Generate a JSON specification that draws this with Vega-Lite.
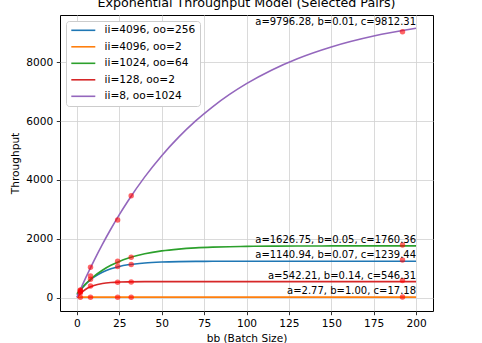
{
  "$schema": "https://vega.github.io/schema/vega-lite/v6.json",
  "width": 373,
  "height": 296,
  "autosize": {"type": "none"},
  "padding": {"left": 60, "top": 15, "right": 49, "bottom": 32},
  "title": {"text": "Exponential Throughput Model (Selected Pairs)", "font": "DejaVu Sans", "fontSize": 12.7, "fontWeight": "normal", "color": "#000", "anchor": "middle", "offset": 5},
  "config": {
    "view": {"stroke": "#000", "strokeWidth": 1},
    "axis": {"domain": false, "grid": true, "gridColor": "#d0d0d0", "gridWidth": 0.8, "tickColor": "#000", "tickSize": 3.7, "tickWidth": 0.8, "labelFont": "DejaVu Sans", "labelFontSize": 10.6, "labelColor": "#000", "labelPadding": 3.5, "titleFont": "DejaVu Sans", "titleFontSize": 10.6, "titleFontWeight": "normal", "titleColor": "#000"},
    "legend": {"orient": "top-left", "offset": 6, "padding": 4, "fillColor": "#fff", "strokeColor": "#cccccc", "cornerRadius": 3, "symbolType": "M-1,0L5,0", "symbolSize": 64, "symbolStrokeWidth": 1.6, "labelFont": "DejaVu Sans", "labelFontSize": 10.6, "labelColor": "#000", "labelOffset": 24, "rowPadding": 5.5}
  },
  "datasets": {
    "curves": [
      {"series": "ii=4096, oo=256", "x": 0, "y": 98.5}, {"series": "ii=4096, oo=256", "x": 2, "y": 255.5}, {"series": "ii=4096, oo=256", "x": 5, "y": 451}, {"series": "ii=4096, oo=256", "x": 8, "y": 608}, {"series": "ii=4096, oo=256", "x": 10, "y": 695}, {"series": "ii=4096, oo=256", "x": 15, "y": 863}, {"series": "ii=4096, oo=256", "x": 20, "y": 980}, {"series": "ii=4096, oo=256", "x": 25, "y": 1060}, {"series": "ii=4096, oo=256", "x": 30, "y": 1116}, {"series": "ii=4096, oo=256", "x": 40, "y": 1180}, {"series": "ii=4096, oo=256", "x": 50, "y": 1211}, {"series": "ii=4096, oo=256", "x": 60, "y": 1226}, {"series": "ii=4096, oo=256", "x": 70, "y": 1233}, {"series": "ii=4096, oo=256", "x": 80, "y": 1236}, {"series": "ii=4096, oo=256", "x": 100, "y": 1239}, {"series": "ii=4096, oo=256", "x": 130, "y": 1239.4}, {"series": "ii=4096, oo=256", "x": 200, "y": 1239.4},
      {"series": "ii=4096, oo=2", "x": 0, "y": 14.41}, {"series": "ii=4096, oo=2", "x": 1, "y": 16.16}, {"series": "ii=4096, oo=2", "x": 2, "y": 16.81}, {"series": "ii=4096, oo=2", "x": 3, "y": 17.04}, {"series": "ii=4096, oo=2", "x": 5, "y": 17.16}, {"series": "ii=4096, oo=2", "x": 10, "y": 17.18}, {"series": "ii=4096, oo=2", "x": 200, "y": 17.18},
      {"series": "ii=1024, oo=64", "x": 0, "y": 133.6}, {"series": "ii=1024, oo=64", "x": 2, "y": 273.7}, {"series": "ii=1024, oo=64", "x": 5, "y": 461}, {"series": "ii=1024, oo=64", "x": 8, "y": 625}, {"series": "ii=1024, oo=64", "x": 10, "y": 723}, {"series": "ii=1024, oo=64", "x": 15, "y": 932}, {"series": "ii=1024, oo=64", "x": 20, "y": 1099}, {"series": "ii=1024, oo=64", "x": 25, "y": 1232}, {"series": "ii=1024, oo=64", "x": 30, "y": 1339}, {"series": "ii=1024, oo=64", "x": 40, "y": 1491}, {"series": "ii=1024, oo=64", "x": 50, "y": 1589}, {"series": "ii=1024, oo=64", "x": 60, "y": 1651}, {"series": "ii=1024, oo=64", "x": 70, "y": 1691}, {"series": "ii=1024, oo=64", "x": 80, "y": 1716}, {"series": "ii=1024, oo=64", "x": 90, "y": 1732}, {"series": "ii=1024, oo=64", "x": 100, "y": 1742}, {"series": "ii=1024, oo=64", "x": 115, "y": 1751}, {"series": "ii=1024, oo=64", "x": 130, "y": 1756}, {"series": "ii=1024, oo=64", "x": 150, "y": 1758.6}, {"series": "ii=1024, oo=64", "x": 175, "y": 1760}, {"series": "ii=1024, oo=64", "x": 200, "y": 1760.2},
      {"series": "ii=128, oo=2", "x": 0, "y": 4.1}, {"series": "ii=128, oo=2", "x": 2, "y": 136.5}, {"series": "ii=128, oo=2", "x": 5, "y": 277}, {"series": "ii=128, oo=2", "x": 8, "y": 369.4}, {"series": "ii=128, oo=2", "x": 10, "y": 412.6}, {"series": "ii=128, oo=2", "x": 15, "y": 479.9}, {"series": "ii=128, oo=2", "x": 20, "y": 513.3}, {"series": "ii=128, oo=2", "x": 25, "y": 529.9}, {"series": "ii=128, oo=2", "x": 30, "y": 538.2}, {"series": "ii=128, oo=2", "x": 40, "y": 544.3}, {"series": "ii=128, oo=2", "x": 50, "y": 545.8}, {"series": "ii=128, oo=2", "x": 70, "y": 546.3}, {"series": "ii=128, oo=2", "x": 200, "y": 546.3},
      {"series": "ii=8, oo=1024", "x": 0, "y": 16}, {"series": "ii=8, oo=1024", "x": 2, "y": 277}, {"series": "ii=8, oo=1024", "x": 5, "y": 655.7}, {"series": "ii=8, oo=1024", "x": 10, "y": 1253}, {"series": "ii=8, oo=1024", "x": 15, "y": 1812}, {"series": "ii=8, oo=1024", "x": 20, "y": 2334}, {"series": "ii=8, oo=1024", "x": 25, "y": 2822}, {"series": "ii=8, oo=1024", "x": 30, "y": 3278}, {"series": "ii=8, oo=1024", "x": 40, "y": 4104}, {"series": "ii=8, oo=1024", "x": 50, "y": 4824}, {"series": "ii=8, oo=1024", "x": 60, "y": 5454}, {"series": "ii=8, oo=1024", "x": 70, "y": 6005}, {"series": "ii=8, oo=1024", "x": 80, "y": 6486}, {"series": "ii=8, oo=1024", "x": 90, "y": 6906}, {"series": "ii=8, oo=1024", "x": 100, "y": 7273}, {"series": "ii=8, oo=1024", "x": 115, "y": 7738}, {"series": "ii=8, oo=1024", "x": 130, "y": 8119}, {"series": "ii=8, oo=1024", "x": 150, "y": 8519}, {"series": "ii=8, oo=1024", "x": 175, "y": 8890}, {"series": "ii=8, oo=1024", "x": 200, "y": 9154}
    ],
    "points": [
      {"x": 2, "y": 262}, {"x": 2, "y": 245}, {"x": 2, "y": 200}, {"x": 2, "y": 170}, {"x": 2, "y": 17},
      {"x": 8, "y": 1033}, {"x": 8, "y": 737}, {"x": 8, "y": 625}, {"x": 8, "y": 397}, {"x": 8, "y": 17},
      {"x": 24, "y": 2640}, {"x": 24, "y": 1235}, {"x": 24, "y": 1060}, {"x": 24, "y": 525}, {"x": 24, "y": 17},
      {"x": 32, "y": 3466}, {"x": 32, "y": 1375}, {"x": 32, "y": 1130}, {"x": 32, "y": 535}, {"x": 32, "y": 17},
      {"x": 192, "y": 9038}, {"x": 192, "y": 1790}, {"x": 192, "y": 1281}, {"x": 192, "y": 580}, {"x": 192, "y": 20}
    ],
    "labels": [
      {"x": 200, "y": 9154, "label": "a=9796.28, b=0.01, c=9812.31"},
      {"x": 200, "y": 1760, "label": "a=1626.75, b=0.05, c=1760.36"},
      {"x": 200, "y": 1239, "label": "a=1140.94, b=0.07, c=1239.44"},
      {"x": 200, "y": 546, "label": "a=542.21, b=0.14, c=546.31"},
      {"x": 200, "y": 17, "label": "a=2.77, b=1.00, c=17.18"}
    ]
  },
  "layer": [
    {
      "data": {"name": "curves"},
      "mark": {"type": "line", "strokeWidth": 1.6, "interpolate": "monotone"},
      "encoding": {
        "x": {"field": "x", "type": "quantitative", "scale": {"domain": [-10, 210], "nice": false, "zero": false}, "axis": {"values": [0, 25, 50, 75, 100, 125, 150, 175, 200], "title": "bb (Batch Size)", "titlePadding": 5}},
        "y": {"field": "y", "type": "quantitative", "scale": {"domain": [-453, 9605], "nice": false, "zero": false}, "axis": {"values": [0, 2000, 4000, 6000, 8000], "format": "d", "title": "Throughput", "titlePadding": 5}},
        "color": {"field": "series", "type": "nominal", "sort": null, "scale": {"domain": ["ii=4096, oo=256", "ii=4096, oo=2", "ii=1024, oo=64", "ii=128, oo=2", "ii=8, oo=1024"], "range": ["#1f77b4", "#ff7f0e", "#2ca02c", "#d62728", "#9467bd"]}, "legend": {"title": null}}
      }
    },
    {
      "data": {"name": "points"},
      "mark": {"type": "point", "filled": true, "color": "#ff0000", "opacity": 0.6, "size": 30},
      "encoding": {
        "x": {"field": "x", "type": "quantitative"},
        "y": {"field": "y", "type": "quantitative"}
      }
    },
    {
      "data": {"name": "labels"},
      "mark": {"type": "text", "align": "right", "baseline": "alphabetic", "dy": -3, "font": "DejaVu Sans", "fontSize": 10, "color": "#000"},
      "encoding": {
        "x": {"field": "x", "type": "quantitative"},
        "y": {"field": "y", "type": "quantitative"},
        "text": {"field": "label"}
      }
    }
  ]
}
